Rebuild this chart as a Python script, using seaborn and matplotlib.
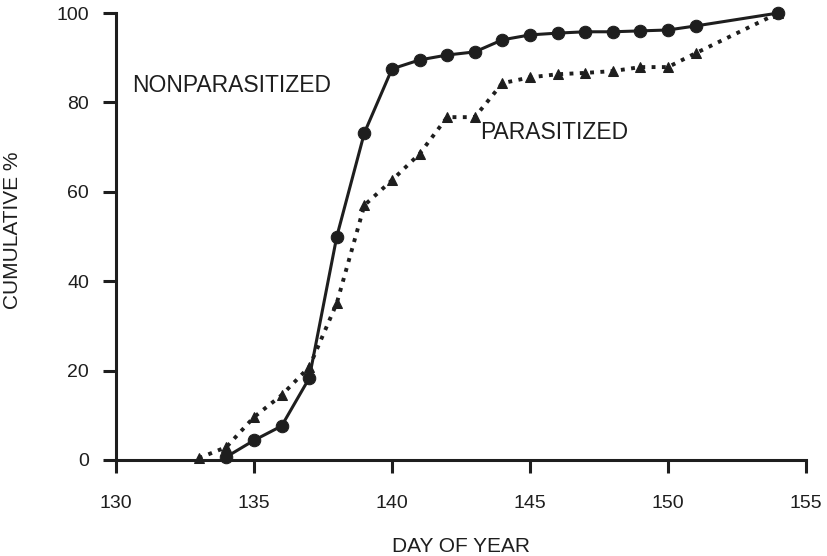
import matplotlib
matplotlib.use("Agg")
import matplotlib.pyplot as plt
import seaborn as sns

sns.set_theme(style="ticks")
plt.rcParams['font.family'] = ['Liberation Sans', 'DejaVu Sans']

# Data
days_nonpar = [134, 135, 136, 137, 138, 139, 140, 141, 142, 143, 144, 145, 146, 147, 148, 149, 150, 151, 154]
cum_nonpar = [0.7, 4.4, 7.6, 18.3, 50.0, 73.2, 87.5, 89.5, 90.6, 91.3, 94.0, 95.1, 95.5, 95.8, 95.8, 96.0, 96.2, 97.1, 100.0]
days_par = [133, 134, 135, 136, 137, 138, 139, 140, 141, 142, 143, 144, 145, 146, 147, 148, 149, 150, 151, 154]
cum_par = [0.4, 2.9, 9.6, 14.5, 20.8, 35.1, 57.0, 62.6, 68.5, 76.7, 76.7, 84.3, 85.6, 86.3, 86.6, 87.0, 87.9, 87.9, 91.0, 100.0]
x_ticks = [130, 135, 140, 145, 150, 155]
y_ticks = [0, 20, 40, 60, 80, 100]

ink = '#1e1e1e'
fig = plt.figure(figsize=(8.28, 5.56), dpi=100)
ax = fig.add_axes([116/828, 96/556, 690/828, 447/556])

sns.lineplot(x=days_nonpar, y=cum_nonpar, ax=ax, color=ink, lw=2.2, marker='o',
             markersize=9, markeredgecolor=ink, clip_on=False, zorder=3)
sns.lineplot(x=days_par, y=cum_par, ax=ax, color=ink, lw=2.8, linestyle=':',
             marker='^', markersize=7, markeredgecolor=ink, clip_on=False, zorder=3)

ax.set_xlim(130, 155)
ax.set_ylim(0, 100)
ax.set_xticks(x_ticks)
ax.set_yticks(y_ticks)
ax.set_xticklabels([str(t) for t in x_ticks])
ax.set_yticklabels([str(t) for t in y_ticks])
for s in ['top', 'right']:
    ax.spines[s].set_visible(False)
for s in ['left', 'bottom']:
    ax.spines[s].set_color(ink)
    ax.spines[s].set_linewidth(2.2)
ax.tick_params(axis='x', direction='out', length=9.4, width=2.2, color=ink,
               labelsize=14, labelcolor=ink, pad=16)
ax.tick_params(axis='y', direction='out', length=9.4, width=2.2, color=ink,
               labelsize=14, labelcolor=ink, pad=10)

ax.set_xlabel('DAY OF YEAR', fontsize=15, color=ink)
ax.xaxis.set_label_coords(0.5, -(537 - 460) / 447)
ax.xaxis.label.set_verticalalignment('top')
ax.set_ylabel('CUMULATIVE %', fontsize=15, color=ink)
ax.yaxis.set_label_coords(-0.136, 0.515)

ax.text(130.6, 83.7, 'NONPARASITIZED', fontsize=16.5, color=ink, ha='left', va='center')
ax.text(143.2, 73.2, 'PARASITIZED', fontsize=16.5, color=ink, ha='left', va='center')

fig.savefig('out.png', dpi=100, facecolor='white')
